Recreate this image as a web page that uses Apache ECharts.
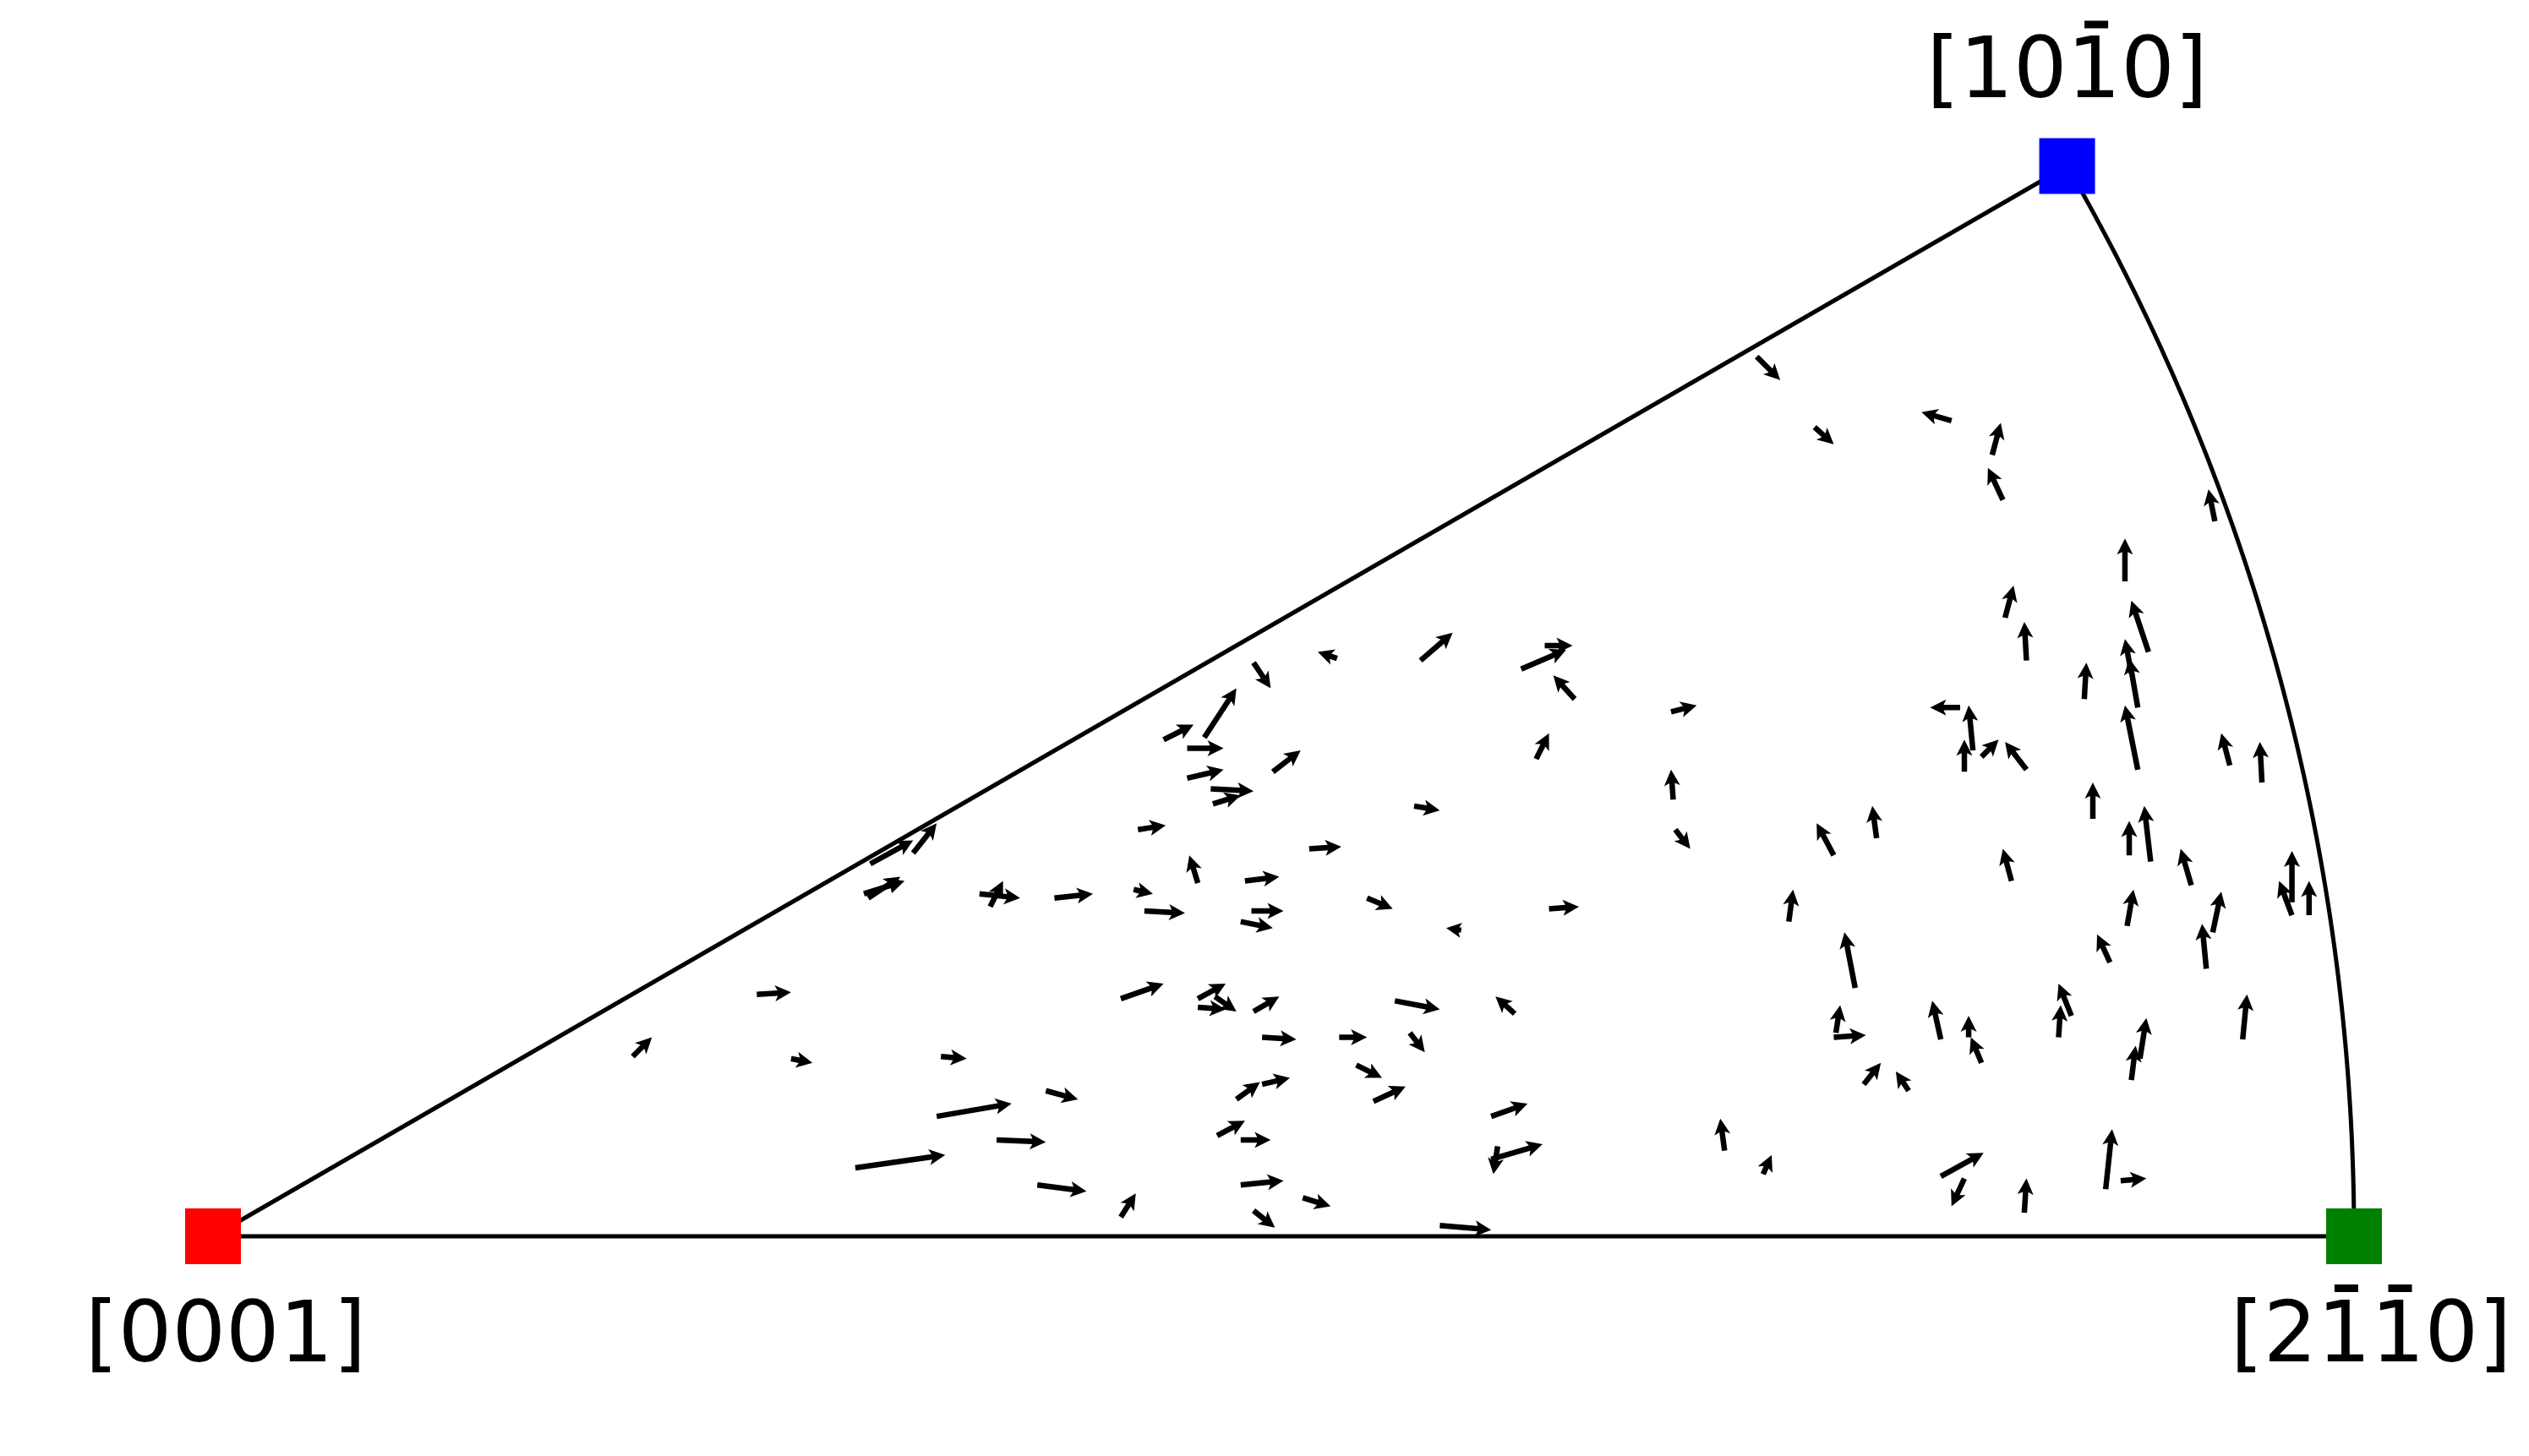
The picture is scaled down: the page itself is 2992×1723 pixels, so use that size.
<!DOCTYPE html>
<html>
<head>
<meta charset="utf-8">
<script src="https://cdn.jsdelivr.net/npm/echarts@6/dist/echarts.min.js"></script>
<style>
html,body{margin:0;padding:0;background:#fff;}
#chart{width:2992px;height:1723px;}
</style>
</head>
<body>
<div id="chart"></div>
<script>
// IPF corner directions (stereographic coordinates); U+0304 marks a barred index
const vertexNames = ['[0001]', '[21\u03041\u03040]', '[101\u03040]'];
const vertexX = [0, 1, 0.8660];
const vertexY = [0, 0, 0.5];
const vertexColors = ['#ff0000', '#008000', '#0000ff'];

// Arrow tails (x, y) and displacement (u, v), in IPF stereographic units
const arrowX = [0.721,0.748,0.812,0.831,0.836,0.935,0.893,0.837,0.847,0.904,0.896,0.899,0.874,0.816,0.822,0.818,0.826,0.847,0.899,0.942,0.957,0.878,0.895,0.905,0.840,0.924,0.894,0.934,0.971,0.971,0.979,0.931,0.886,0.807,0.820,0.826,0.868,0.862,0.900,0.896,0.948,0.807,0.818,0.846,0.884,0.891,0.608,0.597,0.600,0.597,0.706,0.724,0.767,0.758,0.757,0.771,0.792,0.622,0.611,0.636,0.681,0.618,0.682,0.683,0.757,0.777,0.736,0.624,0.564,0.525,0.486,0.463,0.444,0.455,0.455,0.495,0.466,0.467,0.561,0.432,0.512,0.460,0.482,0.393,0.430,0.435,0.485,0.480,0.539,0.583,0.307,0.327,0.306,0.304,0.358,0.363,0.196,0.254,0.270,0.340,0.338,0.366,0.300,0.389,0.385,0.424,0.460,0.460,0.468,0.486,0.490,0.526,0.552,0.559,0.534,0.542,0.478,0.490,0.469,0.480,0.480,0.424,0.486,0.509,0.573];
const arrowY = [0.411,0.378,0.381,0.365,0.344,0.334,0.306,0.289,0.269,0.273,0.263,0.247,0.251,0.247,0.227,0.217,0.224,0.218,0.218,0.220,0.212,0.195,0.178,0.175,0.166,0.164,0.145,0.142,0.156,0.150,0.150,0.125,0.128,0.092,0.093,0.081,0.103,0.093,0.083,0.073,0.092,0.028,0.027,0.011,0.022,0.026,0.104,0.056,0.042,0.036,0.040,0.029,0.116,0.095,0.093,0.071,0.068,0.276,0.265,0.251,0.245,0.223,0.204,0.190,0.178,0.186,0.147,0.153,0.269,0.270,0.268,0.233,0.232,0.228,0.214,0.217,0.209,0.202,0.201,0.190,0.181,0.165,0.166,0.158,0.162,0.152,0.152,0.147,0.158,0.143,0.174,0.179,0.158,0.160,0.160,0.154,0.084,0.113,0.083,0.084,0.056,0.045,0.032,0.068,0.024,0.111,0.111,0.107,0.112,0.105,0.093,0.093,0.110,0.095,0.080,0.063,0.064,0.071,0.047,0.045,0.024,0.009,0.012,0.018,0.005];
const arrowU = [0.011,0.009,-0.014,0.004,-0.007,-0.003,0.000,0.004,-0.001,-0.008,-0.003,-0.004,0.001,-0.014,-0.002,0.000,0.008,-0.010,-0.006,-0.004,-0.001,0.000,0.000,-0.003,-0.004,-0.005,0.003,0.004,0.000,-0.006,0.000,-0.002,-0.006,-0.004,0.000,-0.005,-0.006,0.001,0.003,0.002,0.002,0.020,-0.006,0.001,0.003,0.012,-0.009,0.017,-0.002,0.024,-0.002,0.004,-0.005,0.002,0.015,0.008,-0.006,0.013,0.021,-0.010,0.012,0.006,-0.001,0.007,-0.008,-0.002,0.002,0.014,0.015,-0.009,0.008,0.015,0.014,0.017,0.017,0.013,0.020,0.013,0.012,0.013,0.015,-0.004,0.016,0.018,0.009,0.019,0.015,0.015,0.012,-0.007,0.020,0.011,0.015,0.019,0.019,0.006,0.009,0.016,0.010,0.012,0.035,0.023,0.042,0.015,0.023,0.020,0.013,0.013,0.010,0.012,0.016,0.013,0.021,0.007,0.012,0.015,0.011,0.013,0.013,0.014,0.020,0.007,0.010,0.013,0.024];
const arrowV = [-0.011,-0.008,0.004,0.015,0.015,0.015,0.020,0.015,0.018,0.024,0.016,0.023,0.017,0.000,0.021,0.015,0.008,0.013,0.030,0.015,0.019,0.017,0.016,0.026,0.015,0.017,0.017,0.019,0.024,0.016,0.016,0.021,0.013,0.018,0.010,0.012,0.015,0.015,0.019,0.016,0.021,0.011,-0.013,0.016,0.028,0.001,0.008,0.006,-0.013,0.007,0.015,0.009,0.026,0.013,0.001,0.010,0.009,0.000,0.009,0.011,0.003,0.012,0.014,-0.009,0.015,0.015,0.015,0.001,0.013,0.003,-0.012,0.023,0.007,0.000,0.004,0.010,-0.001,0.004,-0.002,0.002,0.001,0.013,0.002,0.002,-0.002,-0.001,0.000,-0.003,-0.005,0.001,0.011,0.014,0.010,0.006,-0.002,0.012,0.009,0.001,-0.002,-0.001,0.006,-0.001,0.006,-0.004,-0.003,0.007,0.007,-0.001,-0.007,0.007,-0.001,0.000,-0.004,-0.009,-0.006,0.007,0.008,0.003,0.007,0.000,0.002,0.011,-0.008,-0.004,-0.002];

// ---- build ----
const arrowData = arrowX.map((x, i) => [x, arrowY[i], arrowU[i], arrowV[i]]);

// Boundary: [10-10] -> [0001] -> [2-1-10] -> arc back to [10-10]
const boundary = [[vertexX[2], vertexY[2]], [vertexX[0], vertexY[0]], [vertexX[1], vertexY[1]]];
for (let i = 1; i <= 120; i++) {
  const t = (Math.PI / 6) * i / 120;
  boundary.push([Math.cos(t), Math.sin(t)]);
}

const W = 6.5, HW = 19, HL = 19, HAL = 16;
function renderArrow(params, api) {
  const x = api.value(0), y = api.value(1), u = api.value(2), v = api.value(3);
  const p0 = api.coord([x, y]);
  const p1 = api.coord([x + u, y + v]);
  const dx = p1[0] - p0[0], dy = p1[1] - p0[1];
  const L = Math.hypot(dx, dy);
  if (L < 0.5) return null;
  const s = L < HL ? L / HL : 1;
  const w = W * s / 2, hw = HW * s / 2, hl = HL * s, hal = HAL * s;
  const ex = dx / L, ey = dy / L, nx = -ey, ny = ex;
  const pt = (a, b) => [p0[0] + ex * a + nx * b, p0[1] + ey * a + ny * b];
  const pts = [pt(0, w), pt(L - hal, w), pt(L - hl, hw), pt(L, 0), pt(L - hl, -hw), pt(L - hal, -w), pt(0, -w)];
  return { type: 'polygon', shape: { points: pts }, style: { fill: '#000', stroke: null } };
}

// Miller-Bravais label: barred digits get an overbar drawn on a line above
function richLabel(name) {
  const chars = Array.from(name);
  let top = '', bottom = '', hasBar = false;
  for (let i = 0; i < chars.length; i++) {
    const c = chars[i];
    if (c === '\u0304') continue;
    bottom += c;
    if (chars[i + 1] === '\u0304') { hasBar = true; top += '{s1| }{bar| }{s2| }'; }
    else top += '{h|' + c + '}';
  }
  return hasBar ? top + '\n{t|' + bottom + '}' : '{t|' + bottom + '}';
}

const FONT = 'DejaVu Sans';
const rich = {
  t: { fontFamily: FONT, fontSize: 100, lineHeight: 100, color: '#000' },
  h: { fontFamily: FONT, fontSize: 100, lineHeight: 21, color: 'rgba(0,0,0,0)' },
  s1: { fontFamily: FONT, fontSize: 10, width: 20.5, lineHeight: 21, color: 'rgba(0,0,0,0)' },
  s2: { fontFamily: FONT, fontSize: 10, width: 15.1, lineHeight: 21, color: 'rgba(0,0,0,0)' },
  bar: { fontFamily: FONT, fontSize: 10, width: 28, height: 9, lineHeight: 21, backgroundColor: '#000', color: 'rgba(0,0,0,0)' }
};

const labelPlace = [
  { position: 'bottom', distance: 39, offset: [15, 0] },
  { position: 'bottom', distance: 18, offset: [20, 0] },
  { position: 'top', distance: 24, offset: [0, 0] }
];
const vertexData = vertexNames.map((n, i) => ({
  name: n, value: [vertexX[i], vertexY[i]],
  itemStyle: { color: vertexColors[i], opacity: 1 },
  label: Object.assign({ show: true, formatter: richLabel(n), rich: rich, fontFamily: FONT, fontSize: 100, color: '#000' }, labelPlace[i])
}));

const chart = echarts.init(document.getElementById('chart'), null, { renderer: 'canvas' });
chart.setOption({
  animation: false,
  backgroundColor: '#fff',
  grid: { left: 252, top: 196.5, width: 2533, height: 1266.5, containLabel: false },
  xAxis: { type: 'value', min: 0, max: 1, show: false },
  yAxis: { type: 'value', min: 0, max: 0.5, show: false },
  series: [
    {
      type: 'line', data: boundary, showSymbol: false, symbol: 'none', clip: false, z: 1,
      lineStyle: { color: '#000', width: 5, join: 'miter' }, silent: true
    },
    {
      type: 'custom', data: arrowData, renderItem: renderArrow, clip: false, z: 2, silent: true
    },
    {
      type: 'scatter', data: vertexData, symbol: 'rect', symbolSize: 66, clip: false, z: 3,
      itemStyle: { opacity: 1 },
      label: { show: true, fontFamily: FONT, fontSize: 100, color: '#000' },
      emphasis: { disabled: true }, silent: true
    }
  ]
});
</script>
</body>
</html>
